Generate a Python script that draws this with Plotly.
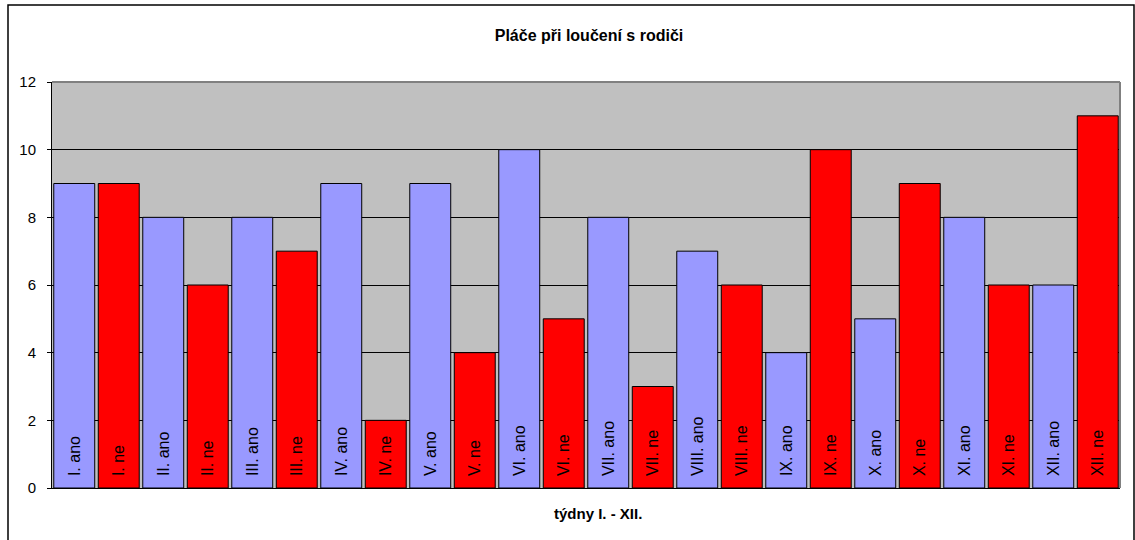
import plotly.graph_objects as go

categories = ["I. ano", "I. ne", "II. ano", "II. ne", "III. ano", "III. ne",
              "IV. ano", "IV. ne", "V. ano", "V. ne", "VI. ano", "VI. ne",
              "VII. ano", "VII. ne", "VIII. ano", "VIII. ne", "IX. ano", "IX. ne",
              "X. ano", "X. ne", "XI. ano", "XI. ne", "XII. ano", "XII. ne"]
values = [9, 9, 8, 6, 8, 7, 9, 2, 9, 4, 10, 5, 8, 3, 7, 6, 4, 10, 5, 9, 8, 6, 6, 11]
colors = ["#9999FF" if c.endswith("ano") else "#FF0000" for c in categories]

title_text = "Pláče při loučení s rodiči"
x_title = "týdny I. - XII."
y_ticks = [0, 2, 4, 6, 8, 10, 12]

W, H = 1135, 540
L, R, T, B = 52, 15, 82, 52
pw = W - L - R
ph = H - T - B

fig = go.Figure(go.Bar(
    x=categories, y=values,
    marker=dict(color=colors, line=dict(color="#000000", width=1)),
    text=["\u00a0\u00a0" + c for c in categories],
    textposition="inside", insidetextanchor="start", textangle=-90,
    textfont=dict(family="Arial, Liberation Sans", size=16, color="#000000"),
    constraintext="none",
    hoverinfo="x+y",
))

fig.update_layout(
    width=W, height=H,
    margin=dict(l=L, r=R, t=T, b=B),
    paper_bgcolor="#FFFFFF", plot_bgcolor="#C0C0C0",
    bargap=0.08, showlegend=False,
    font=dict(family="Arial, Liberation Sans", color="#000000"),
    title=dict(text="<b>" + title_text + "</b>", xref="paper", x=(589 - L) / pw,
               xanchor="center", y=1 - 35 / H, yanchor="middle", font=dict(size=16)),
    xaxis=dict(showticklabels=False, ticks="", showgrid=False, showline=True,
               linecolor="#000000", linewidth=1),
    yaxis=dict(range=[0, 12], tickvals=y_ticks, ticks="outside", ticklen=4,
               tickcolor="#000000", showline=True, linecolor="#000000", linewidth=1,
               gridcolor="#000000", gridwidth=1, zeroline=False,
               tickfont=dict(size=15), ticklabelstandoff=8, fixedrange=True),
)

fig.add_annotation(text="<b>" + x_title + "</b>", xref="paper", yref="paper",
                   x=(598 - L) / pw, y=-(513 - T - ph) / ph, xanchor="center",
                   yanchor="middle", showarrow=False, font=dict(size=15))

# plot area top/right border (gray) and outer chart border
fig.add_shape(type="line", xref="paper", yref="paper", x0=0, x1=1, y0=1, y1=1,
              line=dict(color="#808080", width=2), layer="above")
fig.add_shape(type="line", xref="paper", yref="paper", x0=1, x1=1, y0=0, y1=1,
              line=dict(color="#808080", width=2), layer="above")
fig.add_shape(type="rect", xref="paper", yref="paper",
              x0=(8 - L) / pw, x1=(1134 - L) / pw,
              y0=-(542 - T - ph) / ph, y1=1 + (T - 5) / ph,
              line=dict(color="#000000", width=1.5), layer="above")

fig.write_html("out.html", config={"displayModeBar": False},
               post_script="document.body.style.margin='0';")
